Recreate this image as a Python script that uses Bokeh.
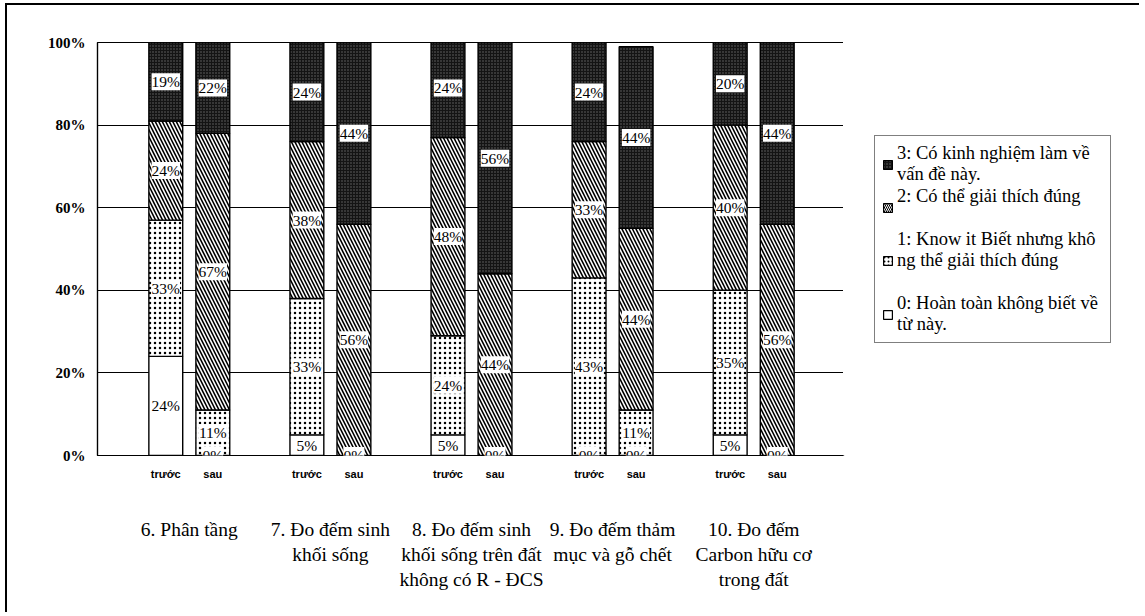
from bokeh.plotting import figure
from bokeh.layouts import row
from bokeh.models import (FactorRange, Range1d, FixedTicker, PrintfTickFormatter,
                          ColumnDataSource, LabelSet, Legend, LegendItem)
from bokeh.embed import file_html
from bokeh.resources import INLINE

# Survey topics and the two survey rounds
groups = ["6. Phân tầng",
          "7. Đo đếm sinh\nkhối sống",
          "8. Đo đếm sinh\nkhối sống trên đất\nkhông có R - ĐCS",
          "9. Đo đếm thảm\nmục và gỗ chết",
          "10. Đo đếm\nCarbon hữu cơ\ntrong đất"]
phases = ["trước", "sau"]

# Share of answers (%) per level, one value per bar (trước, sau for each topic)
level0 = [24, 0, 5, 0, 5, 0, 0, 0, 5, 0]
level1 = [33, 11, 33, 0, 24, 0, 43, 11, 35, 0]
level2 = [24, 67, 38, 56, 48, 44, 33, 44, 40, 56]
level3 = [19, 22, 24, 44, 24, 56, 24, 44, 20, 44]

level_names = ["0: Hoàn toàn không biết về\ntừ này.",
               "1: Know it Biết nhưng khô\nng thể giải thích đúng",
               "2: Có thể giải thích đúng",
               "3: Có kinh nghiệm làm về\nvấn đề này."]
y_ticks = [0, 20, 40, 60, 80, 100]

# fill styles per level (0..3)
fills = ["white", "white", "white", "#141414"]
hatches = [" ", ".", "\\", "."]
hatch_colors = ["black", "black", "black", "#6a6a6a"]
hatch_scales = [6, 5, 7, 3]
hatch_weights = [1, 1.4, 1.6, 1]

# group names get a blank first line so they sit lower under the phase labels
factors = [("\n" + g, ph) for g in groups for ph in phases]
keys = ["l0", "l1", "l2", "l3"]
src = ColumnDataSource(dict(x=factors, l0=level0, l1=level1, l2=level2, l3=level3))

p = figure(width=838, height=609, output_backend="svg", toolbar_location=None,
           x_range=FactorRange(*factors, factor_padding=0.0, group_padding=1.0,
                               range_padding=0.136),
           y_range=Range1d(0, 100),
           min_border_left=90, min_border_right=0, min_border_top=37,
           min_border_bottom=159)
p.margin = (3, 0, 0, 5)
p.styles = {"border-left": "2px solid #000", "border-top": "2px solid #000"}

p.background_fill_color = "white"
p.border_fill_color = "white"
p.outline_line_color = "black"
p.outline_line_width = 1.2

# Stacked bars with print-style fills
renderers = p.vbar_stack(
    keys, x="x", width=0.72, source=src,
    fill_color=fills, hatch_pattern=hatches, hatch_color=hatch_colors,
    hatch_scale=hatch_scales, hatch_weight=hatch_weights,
    line_color="black", line_width=1.4)

# Value labels at the middle of each segment
lx, ly, lt = [], [], []
for i, f in enumerate(factors):
    base = 0
    for vals in (level0, level1, level2, level3):
        v = vals[i]
        lx.append(f)
        ly.append(base + v / 2)
        lt.append(f"{v}%")
        base += v
lab_src = ColumnDataSource(dict(x=lx, y=ly, t=lt))
labels = LabelSet(x="x", y="y", text="t", source=lab_src,
                  text_align="center", text_baseline="middle",
                  text_font="Liberation Serif", text_font_size="15.5px",
                  text_color="black", background_fill_color="white")
p.add_layout(labels)

# Axes
p.yaxis.ticker = FixedTicker(ticks=y_ticks)
p.yaxis.formatter = PrintfTickFormatter(format="%d%%")
p.yaxis.major_label_text_font = "Liberation Serif"
p.yaxis.major_label_text_font_style = "bold"
p.yaxis.major_label_text_font_size = "15px"
p.yaxis.major_label_text_color = "black"
p.yaxis.major_tick_out = 0
p.yaxis.major_tick_in = 0
p.yaxis.minor_tick_line_color = None
p.yaxis.major_label_standoff = 12
p.yaxis.axis_line_color = "black"
p.yaxis.axis_line_width = 1.2

p.xaxis.major_label_text_font = "Liberation Sans"
p.xaxis.major_label_text_font_style = "bold"
p.xaxis.major_label_text_font_size = "11px"
p.xaxis.major_label_text_color = "black"
p.xaxis.group_text_font = "Liberation Serif"
p.xaxis.group_text_font_size = "19.5px"
p.xaxis.group_text_line_height = 1.18
p.xaxis.group_text_font_style = "normal"
p.xaxis.group_text_color = "black"
p.xaxis.separator_line_color = None
p.xaxis.major_tick_out = 0
p.xaxis.major_tick_in = 0
p.xaxis.major_label_standoff = 12
p.xaxis.axis_line_color = "black"
p.xaxis.axis_line_width = 1.2

p.xgrid.grid_line_color = None
p.ygrid.grid_line_color = "black"
p.ygrid.grid_line_width = 1

# Key panel beside the chart; its swatches reuse the same fill styles.
# The swatch renderers hold a single point that lies outside the panel's range,
# so only their legend entries show.
k = figure(width=296, height=609, output_backend="svg", toolbar_location=None,
           x_range=Range1d(0, 1), y_range=Range1d(0, 1),
           min_border_left=0, min_border_right=0, min_border_top=0,
           min_border_bottom=0)
k.margin = (3, 0, 0, 0)
k.styles = {"border-top": "2px solid #000"}
k.axis.visible = False
k.grid.visible = False
k.outline_line_color = None
k.background_fill_color = "white"
k.border_fill_color = "white"

swatch_scales = [4, 4, 4, 3]
swatch_weights = [1, 1.2, 1, 1]
swatches = []
for lv in range(4):
    swatches.append(k.vbar(x=[-10], top=[-10], bottom=[-11], width=0.5,
                           fill_color=fills[lv],
                           hatch_pattern=hatches[lv], hatch_color=hatch_colors[lv],
                           hatch_scale=swatch_scales[lv],
                           hatch_weight=swatch_weights[lv],
                           line_color="black", line_width=1.2))

key_labels = [level_names[3], level_names[2] + "\n ", level_names[1] + "\n ", level_names[0]]
items = [LegendItem(label=txt, renderers=[swatches[lv]])
         for txt, lv in zip(key_labels, (3, 2, 1, 0))]
legend = Legend(items=items, location=(31, 112), orientation="vertical",
                label_text_font="Liberation Serif", label_text_font_size="18.5px",
                label_text_color="black", glyph_width=11, glyph_height=11,
                label_standoff=4, spacing=1, padding=7, margin=0,
                label_width=206,
                border_line_color="black", border_line_width=1.4,
                background_fill_color="white", background_fill_alpha=1)
k.add_layout(legend)

open("out.html", "w").write(file_html(row(p, k), INLINE))
